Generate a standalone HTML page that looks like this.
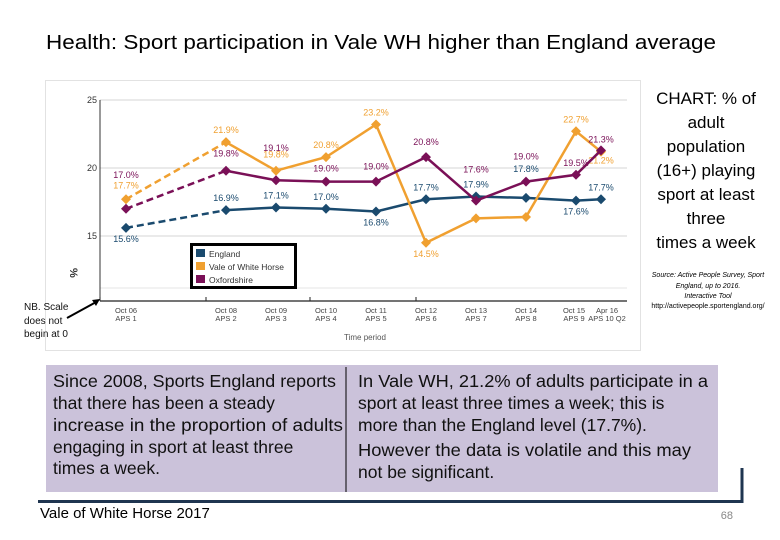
<!DOCTYPE html>
<html><head><meta charset="utf-8"><style>
body{margin:0;background:#fff;}
svg{display:block;font-family:"Liberation Sans",sans-serif;}
</style></head><body>
<svg id="s" width="780" height="540" viewBox="0 0 780 540">
<text x="46" y="49" font-size="20" fill="#000" textLength="670" lengthAdjust="spacingAndGlyphs">Health: Sport participation in Vale WH higher than England average</text>
<rect x="45.5" y="80.5" width="595" height="270" fill="#fff" stroke="#e2e2e2"/>
<g id="grid"></g>
<g id="yticks"></g>
<text x="70" y="268" font-size="11" font-weight="bold" fill="#333" transform="rotate(90 70 268)">%</text>
<line x1="100" y1="100" x2="100" y2="301" stroke="#333"/>
<line x1="100" y1="301" x2="627" y2="301" stroke="#222" stroke-width="1.2"/>
<g id="xticks"></g>
<text x="344" y="340" font-size="8" fill="#555">Time period</text>
<g id="series"></g>
<g>
<rect x="191.5" y="244.5" width="104" height="43" fill="#fff" stroke="#000" stroke-width="3"/>
<rect x="196" y="249" width="9" height="8" fill="#1a4a6e"/>
<text x="209" y="257" font-size="8.5" fill="#333">England</text>
<rect x="196" y="262" width="9" height="8" fill="#f0a030"/>
<text x="209" y="270" font-size="8.5" fill="#333">Vale of White Horse</text>
<rect x="196" y="275" width="9" height="8" fill="#7a1057"/>
<text x="209" y="283" font-size="8.5" fill="#333">Oxfordshire</text>
</g>
<g font-size="10" fill="#111">
<text x="24" y="310">NB. Scale</text><text x="24" y="324">does not</text><text x="24" y="337">begin at 0</text>
</g>
<line x1="67" y1="318" x2="98" y2="301" stroke="#000" stroke-width="2"/>
<polygon points="100,299 92,300 96,306" fill="#000"/>
<g font-size="17" fill="#000" text-anchor="middle">
<text x="706" y="104">CHART: % of</text><text x="706" y="128">adult</text><text x="706" y="152">population</text><text x="706" y="176">(16+) playing</text><text x="706" y="200">sport at least</text><text x="706" y="224">three</text><text x="706" y="248">times a week</text>
</g>
<g font-size="7" font-style="italic" fill="#000" text-anchor="middle">
<text x="708" y="277">Source: Active People Survey, Sport</text><text x="708" y="288">England, up to 2016.</text><text x="708" y="298">Interactive Tool</text><text x="708" y="308" font-style="normal">http://activepeople.sportengland.org/</text>
</g>
<rect x="46" y="365" width="672" height="127" fill="#cbc2da"/>
<line x1="346" y1="367" x2="346" y2="492" stroke="#000"/>
<g font-size="17.5" fill="#111">
<text x="53" y="387" textLength="283" lengthAdjust="spacingAndGlyphs">Since 2008, Sports England reports</text>
<text x="53" y="409">that there has been a steady</text>
<text x="53" y="431" textLength="290" lengthAdjust="spacingAndGlyphs">increase in the proportion of adults</text>
<text x="53" y="453">engaging in sport at least three</text>
<text x="53" y="474">times a week.</text>
</g>
<g font-size="17.5" fill="#111">
<text x="358" y="387" textLength="350" lengthAdjust="spacingAndGlyphs">In Vale WH, 21.2% of adults participate in a</text>
<text x="358" y="409">sport at least three times a week; this is</text>
<text x="358" y="431">more than the England level (17.7%).</text>
<text x="358" y="456" textLength="333" lengthAdjust="spacingAndGlyphs">However the data is volatile and this may</text>
<text x="358" y="478">not be significant.</text>
</g>
<path d="M38 501.5 H742 V468" fill="none" stroke="#1f3550" stroke-width="3"/>
<text x="40" y="518" font-size="15" fill="#000">Vale of White Horse 2017</text>
<text x="733" y="519" font-size="11" fill="#888" text-anchor="end">68</text>
</svg>
<script>
const categories=["Oct 06|APS 1","Oct 08|APS 2","Oct 09|APS 3","Oct 10|APS 4","Oct 11|APS 5","Oct 12|APS 6","Oct 13|APS 7","Oct 14|APS 8","Oct 15|APS 9","Apr 16|APS 10 Q2"];
const catPos=[0,2,3,4,5,6,7,8,9,9.5];
const england=[15.6,16.9,17.1,17.0,16.8,17.7,17.9,17.8,17.6,17.7];
const vale=[17.7,21.9,19.8,20.8,23.2,14.5,16.3,16.4,22.7,21.2];
const oxon=[17.0,19.8,19.1,19.0,19.0,20.8,17.6,19.0,19.5,21.3];
const yTicks=[15,20,25];
const englandLblDy=[14,-9,-9,-9,14,-9,-9,-26,14,-9];
const valeLblDy=[-11,-9,-13,-9,-9,14,null,null,-9,12];
const oxonLblDy=[-31,-14,-29,-10,-12,-12,-28,-22,-9,-8];
const NS="http://www.w3.org/2000/svg";
const x=i=>126+catPos[i]*50;
const y=v=>168-(v-20)*13.6;
function mk(tag,attrs,parent){const e=document.createElementNS(NS,tag);for(const k in attrs)e.setAttribute(k,attrs[k]);parent.appendChild(e);return e;}
const grid=document.getElementById('grid'),yt=document.getElementById('yticks'),xt=document.getElementById('xticks'),sg=document.getElementById('series');
yTicks.forEach(t=>{
 const l=mk('line',{x1:100,x2:627,y1:y(t),y2:y(t),stroke:'#d4d4d4'},grid);
 
 
 const tx=mk('text',{x:97,y:y(t)+3,'font-size':9,'text-anchor':'end',fill:'#333'},yt);
 tx.textContent=t;
 
 
});
const lg=mk('line',{x1:100,x2:627,y1:288,y2:288,stroke:'#e4e4e4'},grid);


categories.forEach((c,i)=>{
 const [a,b]=c.split('|');
 const t=mk('text',{x:x(i)+(i==8?-2:0)+(i==9?6:0),y:313,'font-size':7.5,'text-anchor':'middle',fill:'#444'},xt);
 
 
 mk('tspan',{x:t.getAttribute('x'),dy:0},t).textContent=a;
 mk('tspan',{x:t.getAttribute('x'),dy:8},t).textContent=b;
});
[100,206,310,416].forEach(p=>{const m=mk('line',{x1:p,x2:p,y1:297,y2:301,stroke:'#222'},xt);});
function drawSeries(vals,color,name,dys){
 const g=mk('g',{},sg);
 
 
 const d1=mk('line',{x1:x(0),y1:y(vals[0]),x2:x(1),y2:y(vals[1]),stroke:color,'stroke-width':2.5,'stroke-dasharray':'7,4'},g);
 
 
 const pts=vals.slice(1).map((v,k)=>x(k+1)+','+y(v)).join(' ');
 const pl=mk('polyline',{points:pts,fill:'none',stroke:color,'stroke-width':2.5},g);
 
 
 vals.forEach((v,i)=>{
  const cx=x(i),cy=y(v);
  const p=mk('polygon',{points:`${cx},${cy-5} ${cx+5},${cy} ${cx},${cy+5} ${cx-5},${cy}`,fill:color},g);
  
  
  if(dys[i]!==null){
   const t=mk('text',{x:cx,y:cy+dys[i],'font-size':9,'text-anchor':'middle',fill:color},g);
   t.textContent=v.toFixed(1)+'%';
   
   
  }
 });
}
drawSeries(england,'#1a4a6e','england',englandLblDy);
drawSeries(vale,'#f0a030','vale',valeLblDy);
drawSeries(oxon,'#7a1057','oxfordshire',oxonLblDy);
</script>
</body></html>
